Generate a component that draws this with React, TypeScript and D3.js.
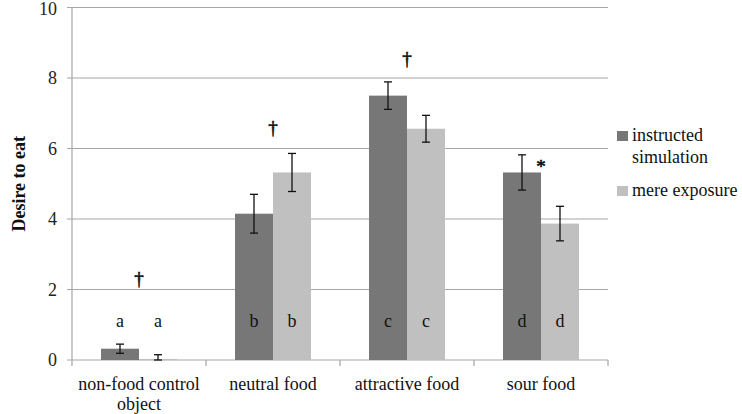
import React from "react";
import * as d3 from "d3";

const categories = ["non-food control object", "neutral food", "attractive food", "sour food"];
const categoryLines = [["non-food control", "object"], ["neutral food"], ["attractive food"], ["sour food"]];
const seriesNames = ["instructed simulation", "mere exposure"];
const simulationValues = [0.32, 4.15, 7.5, 5.32];
const simulationErrors = [0.13, 0.55, 0.39, 0.5];
const exposureValues = [0.03, 5.32, 6.56, 3.87];
const exposureErrors = [0.12, 0.54, 0.38, 0.49];
const groupLetters = ["a", "b", "c", "d"];
const significance = ["\u2020", "\u2020", "\u2020", "*"];
const significanceY = [2.14, 6.4, 8.38, 5.3];
const yTicks = [0, 2, 4, 6, 8, 10];

const colors = ["#777777", "#c0c0c0"];
const font = "'Liberation Serif', 'Times New Roman', 'DejaVu Serif', serif";

export default function App() {
  const W = 742, H = 414;
  const left = 72, right = 608, top = 7.5, bottom = 360;
  const x = d3.scaleBand<string>().domain(categories).range([left, right]);
  const y = d3.scaleLinear().domain([0, 10]).range([bottom, top]);
  const series = [
    { values: simulationValues, errors: simulationErrors },
    { values: exposureValues, errors: exposureErrors },
  ];
  const bw = 38;
  const barX = (ci: number, si: number) => (x(categories[ci]) as number) + x.bandwidth() / 2 - bw + si * bw;
  const fs = 18;

  return (
    <svg width={W} height={H} style={{ position: "absolute", left: 0, top: 0, background: "#fff" }} fontFamily={font}>
      {yTicks.map((t) => (
        <g key={t}>
          <line x1={left - 5} x2={right} y1={y(t)} y2={y(t)} stroke="#a6a6a6" strokeWidth={1.2} />
          <text x={57} y={Math.max(y(t) + 6, 15)} textAnchor="end" fontSize={fs} fill="#222">{t}</text>
        </g>
      ))}
      <line x1={left} x2={left} y1={top} y2={bottom} stroke="#a6a6a6" strokeWidth={1.2} />
      {d3.range(categories.length + 1).map((i) => {
        const xx = left + i * x.step();
        return <line key={i} x1={xx} x2={xx} y1={bottom} y2={bottom + 6} stroke="#a6a6a6" strokeWidth={1.2} />;
      })}
      {series.map((s, si) =>
        s.values.map((v, ci) => (
          <rect key={`${si}-${ci}`} x={barX(ci, si)} y={y(v)} width={bw} height={bottom - y(v)} fill={colors[si]} />
        ))
      )}
      {series.map((s, si) =>
        s.values.map((v, ci) => {
          const cx = barX(ci, si) + bw / 2;
          const y1 = y(v + s.errors[ci]);
          const y2 = y(Math.max(0, v - s.errors[ci]));
          return (
            <g key={`e${si}-${ci}`} stroke="#111" strokeWidth={1.3}>
              <line x1={cx} x2={cx} y1={y1} y2={y2} />
              <line x1={cx - 4} x2={cx + 4} y1={y1} y2={y1} />
              <line x1={cx - 4} x2={cx + 4} y1={y2} y2={y2} />
            </g>
          );
        })
      )}
      {groupLetters.map((l, ci) =>
        [0, 1].map((si) => (
          <text key={`l${ci}-${si}`} x={barX(ci, si) + bw / 2} y={327} textAnchor="middle" fontSize={fs} fill="#111">{l}</text>
        ))
      )}
      {significance.map((s, ci) => (
        <text key={`s${ci}`} x={(x(categories[ci]) as number) + x.bandwidth() / 2} y={y(significanceY[ci])} textAnchor="middle" fontSize={19} fill="#111" stroke="#111" strokeWidth={0.6}>{s}</text>
      ))}
      {categoryLines.map((lines, ci) =>
        lines.map((ln, li) => (
          <text key={`x${ci}-${li}`} x={(x(categories[ci]) as number) + x.bandwidth() / 2} y={390 + li * 20} textAnchor="middle" fontSize={fs} fill="#111">{ln}</text>
        ))
      )}
      <text transform={`translate(25,${(top + bottom) / 2}) rotate(-90)`} textAnchor="middle" fontSize={fs} fontWeight="bold" fill="#111">Desire to eat</text>
      <rect x={617} y={131} width={11} height={10} fill={colors[0]} />
      <text x={632} y={141} fontSize={fs} fill="#111">instructed</text>
      <text x={632} y={163} fontSize={fs} fill="#111">simulation</text>
      <rect x={617} y={186} width={11} height={10} fill={colors[1]} />
      <text x={632} y={196} fontSize={fs} fill="#111">mere exposure</text>
    </svg>
  );
}
